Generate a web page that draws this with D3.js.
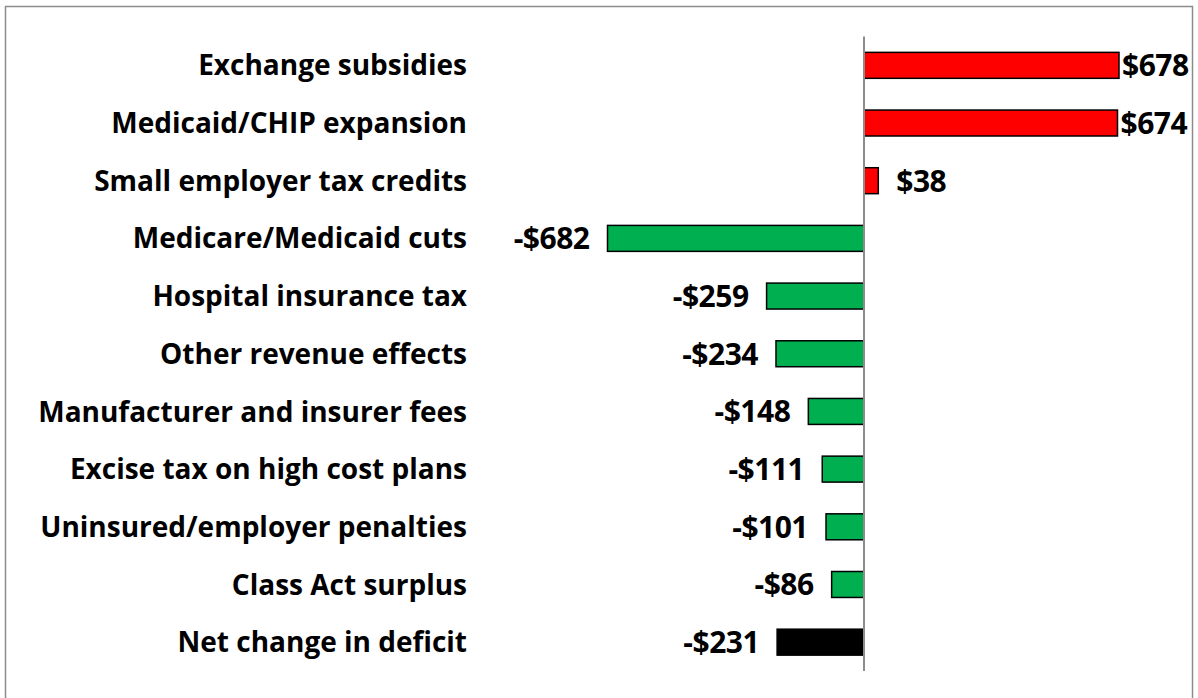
<!DOCTYPE html>
<html><head><meta charset="utf-8">
<script src="https://cdn.jsdelivr.net/npm/d3@7"></script>
<style>body{margin:0;background:#fff;} svg{display:block;}</style>
</head><body>
<script>
const categories = ["Exchange subsidies","Medicaid/CHIP expansion","Small employer tax credits","Medicare/Medicaid cuts","Hospital insurance tax","Other revenue effects","Manufacturer and insurer fees","Excise tax on high cost plans","Uninsured/employer penalties","Class Act surplus","Net change in deficit"];
const values = [678,674,38,-682,-259,-234,-148,-111,-101,-86,-231];
const barColors = ["#FF0000","#FF0000","#FF0000","#00B050","#00B050","#00B050","#00B050","#00B050","#00B050","#00B050","#000000"];
const labels = ["$678","$674","$38","-$682","-$259","-$234","-$148","-$111","-$101","-$86","-$231"];

const W=1198,H=698;
const svg=d3.select("body").append("svg").attr("width",W).attr("height",H);
svg.append("rect").attr("x",5.5).attr("y",6.5).attr("width",1187).attr("height",700).attr("fill","#fff").attr("stroke","#8c8c8c").attr("stroke-width",1.5);

const x=d3.scaleLinear().domain([-682,678]).range([607.5,1119]);
const y=d3.scaleBand().domain(categories).range([36.5,671]).paddingInner(0.55).paddingOuter(0.275);
const font="'Open Sans', sans-serif";

svg.selectAll("rect.bar").data(values).join("rect").attr("class","bar")
 .attr("x",d=>x(Math.min(0,d))).attr("width",d=>Math.abs(x(d)-x(0)))
 .attr("y",(d,i)=>y(categories[i])).attr("height",y.bandwidth())
 .attr("fill",(d,i)=>barColors[i]).attr("stroke","#000").attr("stroke-width",1.5);

svg.append("line").attr("x1",x(0)).attr("x2",x(0)).attr("y1",36.5).attr("y2",671).attr("stroke","#8c8c8c").attr("stroke-width",2);

svg.selectAll("text.cat").data(categories).join("text").attr("class","cat")
 .attr("x",467).attr("y",d=>y(d)+y.bandwidth()/2).attr("dy","0.36em")
 .attr("text-anchor","end").attr("font-family",font).attr("font-weight","bold").attr("font-size",28).attr("fill","#000").text(d=>d);

svg.selectAll("text.val").data(values).join("text").attr("class","val")
 .attr("y",(d,i)=>y(categories[i])+y.bandwidth()/2).attr("dy","0.36em")
 .attr("font-family",font).attr("font-weight","bold").attr("font-size",30).attr("letter-spacing",-0.5).attr("fill","#000")
 .text((d,i)=>labels[i])
 .each(function(d){
   const t=d3.select(this);
   if(d<0){t.attr("text-anchor","end").attr("x",x(d)-18);}
   else{
     const w=this.getComputedTextLength();
     let px=x(d)+18; if(px+w>1192) px=x(d)+3;
     t.attr("text-anchor","start").attr("x",px);
   }
 });
</script>
</body></html>
